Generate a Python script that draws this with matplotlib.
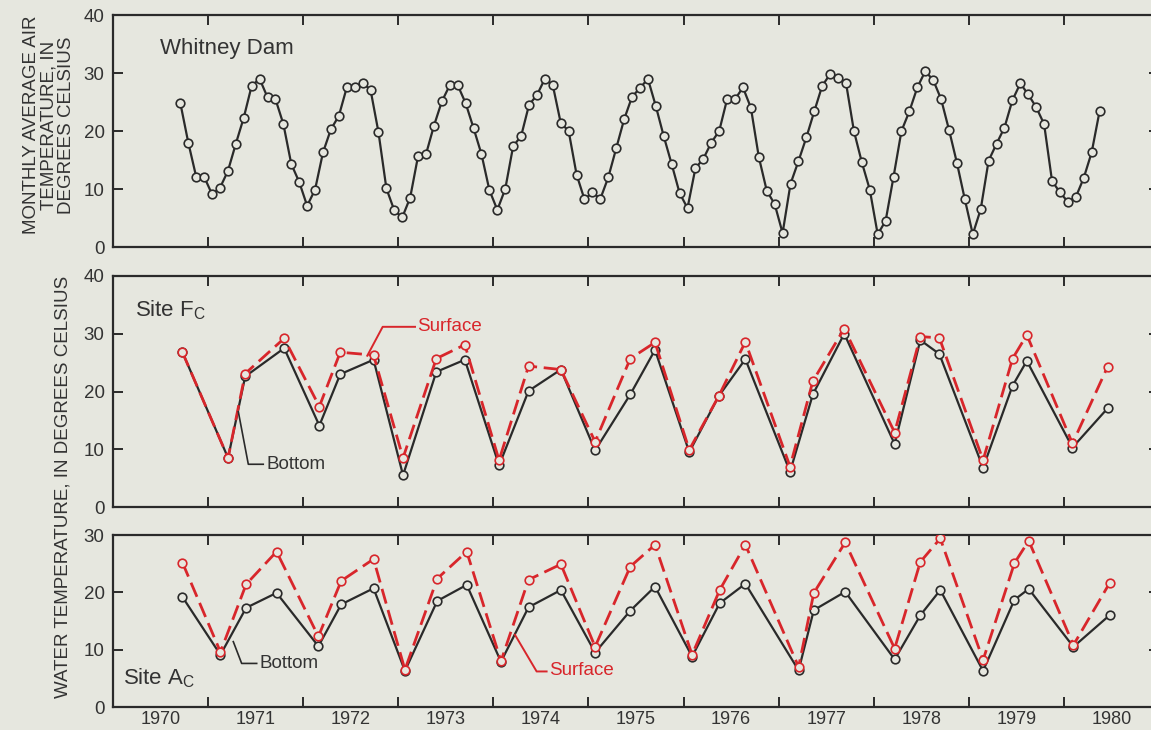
import numpy as np
import matplotlib
matplotlib.use("Agg")
import matplotlib.pyplot as plt

# ---------------- data ----------------
# Whitney Dam monthly average air temperature, Sep 1970 - May 1980 (deg C)
air_start_year = 1970
air_start_month = 9
air_temp = [
    24.8, 18.0, 12.1, 12.1,
    9.1, 10.2, 13.1, 17.8, 22.3, 27.8, 29.0, 25.8, 25.5, 21.2, 14.3, 11.2,
    7.1, 9.9, 16.3, 20.3, 22.6, 27.5, 27.5, 28.3, 27.1, 19.8, 10.1, 6.3,
    5.1, 8.5, 15.7, 16.0, 20.9, 25.1, 27.9, 27.9, 24.8, 20.5, 16.0, 9.8,
    6.4, 10.0, 17.4, 19.1, 24.5, 26.2, 29.0, 27.9, 21.4, 20.0, 12.5, 8.2,
    9.4, 8.3, 12.0, 17.0, 22.0, 25.9, 27.4, 29.0, 24.3, 19.1, 14.3, 9.3,
    6.7, 13.6, 15.2, 18.0, 20.0, 25.5, 25.5, 27.5, 24.0, 15.5, 9.7, 7.4,
    2.4, 10.9, 14.8, 18.9, 23.4, 27.8, 29.8, 29.1, 28.3, 20.0, 14.6, 9.9,
    2.2, 4.5, 12.1, 20.0, 23.4, 27.5, 30.3, 28.8, 25.5, 20.2, 14.5, 8.2,
    2.2, 6.5, 14.9, 17.8, 20.6, 25.3, 28.2, 26.3, 24.1, 21.2, 11.4, 9.4,
    7.8, 8.6, 11.9, 16.3, 23.4,
]

# Site Fc water temperature (sampling date as decimal year)
fc_time = [1970.73, 1971.21, 1971.39, 1971.80, 1972.17, 1972.39, 1972.74, 1973.05,
           1973.40, 1973.70, 1974.06, 1974.37, 1974.71, 1975.07, 1975.44, 1975.70,
           1976.06, 1976.37, 1976.65, 1977.12, 1977.36, 1977.69, 1978.22, 1978.49,
           1978.69, 1979.15, 1979.46, 1979.61, 1980.09, 1980.46]
fc_bottom = [26.8, 8.5, 22.6, 27.5, 14.1, 23.0, 25.5, 5.5, 23.4, 25.5, 7.2, 20.1,
             23.8, 9.8, 19.5, 27.2, 9.5, 19.2, 25.6, 6.1, 19.5, 30.0, 10.9, 28.9,
             26.5, 6.8, 21.0, 25.3, 10.3, 17.1]
fc_surface = [26.8, 8.5, 23.1, 29.2, 17.4, 26.8, 26.3, 8.5, 25.7, 28.1, 8.1, 24.4,
              23.8, 11.3, 25.7, 28.5, 9.9, 19.2, 28.6, 7.0, 21.8, 30.9, 12.9, 29.5,
              29.3, 8.1, 25.7, 29.8, 11.0, 24.3]

# Site Ac water temperature
ac_time = [1970.73, 1971.13, 1971.40, 1971.72, 1972.16, 1972.40, 1972.74, 1973.07,
           1973.41, 1973.72, 1974.08, 1974.37, 1974.71, 1975.07, 1975.44, 1975.70,
           1976.09, 1976.38, 1976.65, 1977.21, 1977.37, 1977.70, 1978.22, 1978.49,
           1978.70, 1979.15, 1979.48, 1979.63, 1980.10, 1980.48]
ac_bottom = [19.2, 9.1, 17.3, 19.9, 10.6, 17.9, 20.7, 6.3, 18.5, 21.3, 7.9, 17.4,
             20.4, 9.5, 16.8, 21.0, 8.8, 18.1, 21.5, 6.4, 16.9, 20.1, 8.3, 16.0,
             20.4, 6.3, 18.7, 20.6, 10.5, 16.0]
ac_surface = [25.2, 9.6, 21.4, 27.1, 12.3, 22.0, 25.8, 6.5, 22.4, 27.1, 8.0, 22.2,
              24.9, 10.5, 24.5, 28.3, 9.1, 20.4, 28.3, 7.0, 19.9, 28.7, 10.2, 25.3,
              29.4, 8.2, 25.1, 29.0, 10.8, 21.6]

year_labels = [str(y) for y in range(1970, 1981)]

# ---------------- style ----------------
BG = "#e6e7df"
INK = "#2a2a2a"
RED = "#d8262b"
FONT = "Liberation Sans"
plt.rcParams["font.family"] = [FONT, "DejaVu Sans"]
plt.rcParams["mathtext.fontset"] = "custom"
plt.rcParams["mathtext.rm"] = FONT
plt.rcParams["mathtext.it"] = FONT

W, H = 1151, 730
fig = plt.figure(figsize=(W / 100, H / 100), dpi=100, facecolor=BG)

left_px, right_px = 113, 1159


def add_axes(top_px, bot_px):
    return fig.add_axes([left_px / W, 1 - bot_px / H,
                         (right_px - left_px) / W, (bot_px - top_px) / H],
                        facecolor=BG)


ax_air = add_axes(15, 247)
ax_fc = add_axes(276, 507)
ax_ac = add_axes(535, 707)

air_x = air_start_year + (air_start_month - 1 + np.arange(len(air_temp)) + 0.5) / 12.0

for ax, ymax in ((ax_air, 40), (ax_fc, 40), (ax_ac, 30)):
    ax.set_xlim(1970, 1981)
    ax.set_ylim(0, ymax)
    ax.set_yticks(np.arange(0, ymax + 1, 10))
    ax.set_yticklabels([str(v) for v in range(0, ymax + 1, 10)])
    ax.set_xticks(np.arange(1970, 1982))
    ax.set_xticklabels([])
    for s in ax.spines.values():
        s.set_color(INK)
        s.set_linewidth(1.6)
    ax.tick_params(axis="both", which="major", direction="in", length=7, width=1.4,
                   color=INK, top=True, bottom=True, left=True, right=True,
                   labelsize=13.5, labelcolor="#333333")
    ax.tick_params(axis="y", pad=6)

# year labels at mid-year on the bottom panel
ax_ac.set_xticks(np.arange(1970, 1981) + 0.5, minor=True)
ax_ac.set_xticklabels(year_labels, minor=True)
ax_ac.tick_params(axis="x", which="minor", length=0, pad=3, labelsize=13,
                  labelcolor="#333333")

mk = dict(marker="o", markersize=6.2, markerfacecolor=BG, markeredgewidth=1.2)

# top panel
ax_air.plot(air_x, air_temp, color=INK, lw=1.6, markeredgecolor=INK, **mk)
ax_air.text(1970.49, 34.3, "Whitney Dam", fontsize=16, color="#333333",
            va="center", ha="left")

# site Fc
ax_fc.plot(fc_time, fc_bottom, color=INK, lw=1.6, markeredgecolor=INK, zorder=3, **mk)
ax_fc.plot(fc_time, fc_surface, color=RED, lw=2.0, dashes=(5.5, 2.4),
           markeredgecolor=RED, zorder=4, **mk)
ax_fc.text(1970.23, 33.0, r"Site F$_{\mathrm{C}}$", fontsize=16, color="#333333",
           va="baseline", ha="left")
ax_fc.plot([1971.318, 1971.423, 1971.58], [16.5, 7.4, 7.4], color=INK, lw=1.2, zorder=5)
ax_fc.text(1971.61, 7.4, "Bottom", fontsize=13.5, color="#333333", va="center", ha="left")
ax_fc.plot([1972.674, 1972.836, 1973.176], [26.2, 31.2, 31.2], color=RED, lw=1.4, zorder=5)
ax_fc.text(1973.20, 31.3, "Surface", fontsize=13.5, color=RED, va="center", ha="left")

# site Ac
ax_ac.plot(ac_time, ac_bottom, color=INK, lw=1.6, markeredgecolor=INK, zorder=3, **mk)
ax_ac.plot(ac_time, ac_surface, color=RED, lw=2.0, dashes=(5.5, 2.4),
           markeredgecolor=RED, zorder=4, **mk)
ax_ac.text(1970.105, 4.0, r"Site A$_{\mathrm{C}}$", fontsize=16, color="#333333",
           va="baseline", ha="left")
ax_ac.plot([1971.265, 1971.353, 1971.511], [11.4, 7.6, 7.6], color=INK, lw=1.2, zorder=5)
ax_ac.text(1971.54, 7.5, "Bottom", fontsize=13.5, color="#333333", va="center", ha="left")
ax_ac.plot([1974.227, 1974.455, 1974.56], [12.6, 6.2, 6.2], color=RED, lw=1.4, zorder=5)
ax_ac.text(1974.585, 6.4, "Surface", fontsize=13.5, color=RED, va="center", ha="left")

# y-axis titles
fig.text(49 / W, 1 - 125 / H, "MONTHLY AVERAGE AIR\nTEMPERATURE, IN\nDEGREES CELSIUS",
         rotation=90, ha="center", va="center", fontsize=13.5, color="#333333",
         linespacing=1.05, multialignment="center")
fig.text(63 / W, 1 - 487 / H, "WATER TEMPERATURE, IN DEGREES CELSIUS",
         rotation=90, ha="center", va="center", fontsize=13.5, color="#333333")

fig.savefig("out.png", dpi=100, facecolor=BG)
